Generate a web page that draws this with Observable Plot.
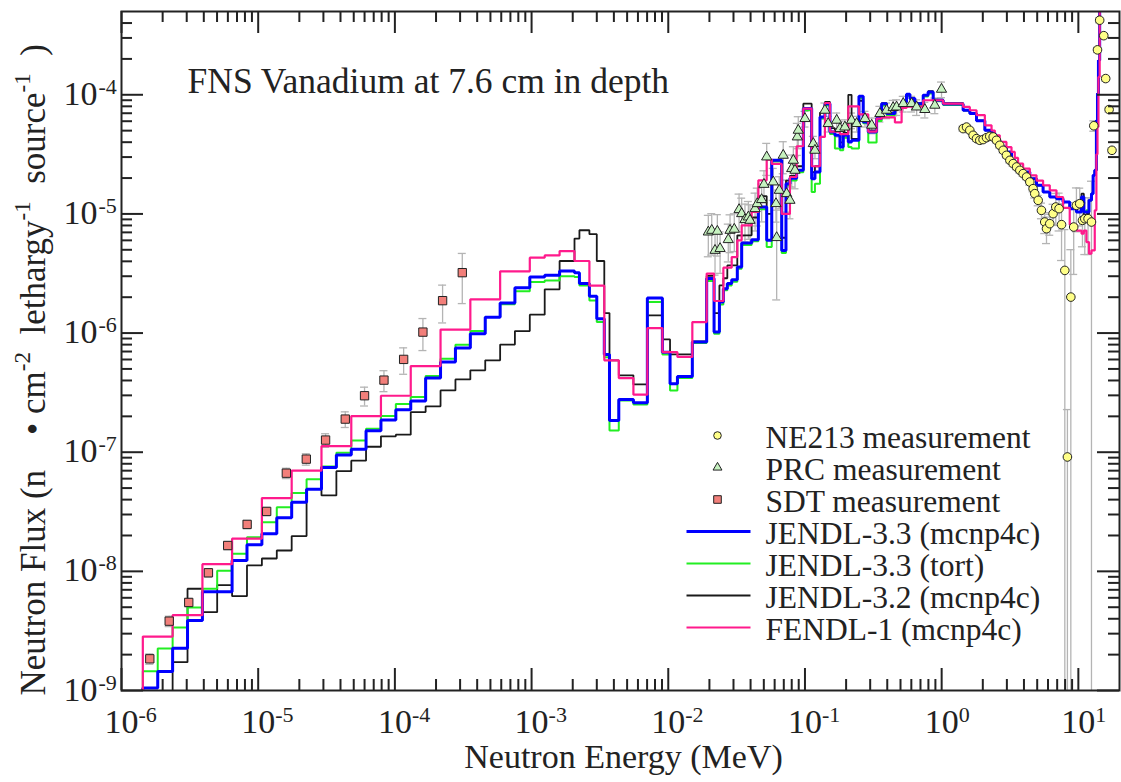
<!DOCTYPE html>
<html><head><meta charset="utf-8">
<script src="https://cdn.jsdelivr.net/npm/d3@7"></script>
<script src="https://cdn.jsdelivr.net/npm/@observablehq/plot@0.6"></script>
<style>body{margin:0;background:#fff}#chart{width:1121px;height:782px}</style>
</head><body><div id="chart"></div>
<script>
// ---- Data (log10 values) ----
// group boundaries, log10(E / MeV)
const edgeLogE = [-5.844,-5.735,-5.626,-5.517,-5.408,-5.300,-5.191,-5.082,-4.973,-4.864,
 -4.755,-4.646,-4.537,-4.428,-4.319,-4.211,-4.102,-3.993,-3.884,-3.775,
 -3.666,-3.557,-3.448,-3.339,-3.230,-3.122,-3.013,-2.904,-2.795,-2.686,
 -2.650,-2.577,-2.523,-2.468,-2.430,-2.362,-2.255,-2.153,-2.043,-1.987,
 -1.933,-1.824,-1.719,-1.665,-1.626,-1.597,-1.568,-1.536,-1.495,-1.463,
 -1.390,-1.341,-1.280,-1.243,-1.170,-1.139,-1.110,-1.061,-1.012,-0.951,
 -0.927,-0.890,-0.854,-0.817,-0.781,-0.744,-0.720,-0.683,-0.659,-0.605,
 -0.574,-0.537,-0.476,-0.439,-0.403,-0.342,-0.293,-0.257,-0.232,-0.196,
 -0.135,-0.099,-0.062,0.011,0.157,0.206,0.255,0.316,0.365,0.389,
 0.425,0.474,0.511,0.535,0.559,0.596,0.645,0.694,0.742,0.791,
 0.840,0.888,0.937,0.986,1.023,1.040,1.059,1.078,1.096,1.108,
 1.120,1.132,1.140,1.147,1.156,1.170];

// log10 flux per group
const jendl33McnpLog = [-8.98,-8.84,-8.645,-8.412,-8.171,-8.171,-7.908,-7.777,-7.684,-7.55,
 -7.419,-7.31,-7.128,-7.024,-6.976,-6.82,-6.73,-6.643,-6.571,-6.378,
 -6.243,-6.126,-6.005,-5.868,-5.748,-5.619,-5.530,-5.515,-5.479,-5.493,
 -5.585,-5.692,-5.879,-6.179,-6.733,-6.557,-6.584,-5.706,-6.16,-6.425,
 -6.364,-6.076,-5.543,-5.992,-5.74,-5.627,-5.585,-5.552,-5.446,-5.245,
 -5.216,-4.942,-5.222,-4.55,-5.306,-4.746,-4.70,-4.634,-4.116,-4.704,
 -4.648,-4.186,-4.075,-4.312,-4.34,-4.438,-4.34,-4.396,-4.382,-4.013,
 -4.228,-4.312,-4.2,-4.075,-4.158,-4.102,-4.06,-3.996,-4.032,-4.075,
 -4.004,-3.976,-4.046,-4.077,-4.13,-4.158,-4.218,-4.298,-4.32,-4.382,
 -4.438,-4.48,-4.55,-4.592,-4.62,-4.648,-4.704,-4.76,-4.816,-4.858,
 -4.872,-4.9,-4.956,-4.984,-4.858,-4.984,-4.984,-4.886,-4.83,-4.676,
 -4.634,-4.214,-3.99,-3.71,-3.0];
const jendl33TortLog = [-8.838,-8.647,-8.471,-8.303,-8.146,-7.995,-7.852,-7.713,-7.587,-7.461,
 -7.343,-7.226,-7.119,-7.004,-6.901,-6.803,-6.697,-6.596,-6.537,-6.361,
 -6.215,-6.098,-5.983,-5.866,-5.759,-5.65,-5.572,-5.558,-5.524,-5.53,
 -5.6,-5.726,-5.908,-6.202,-6.817,-6.565,-6.599,-5.74,-6.179,-6.481,
 -6.378,-6.084,-5.563,-6.005,-5.76,-5.64,-5.6,-5.57,-5.46,-5.26,
 -5.23,-4.96,-5.278,-4.56,-5.328,-4.76,-4.72,-4.65,-4.13,-4.816,
 -4.746,-4.2,-4.09,-4.33,-4.45,-4.466,-4.36,-4.438,-4.45,-4.03,
 -4.24,-4.4,-4.22,-4.09,-4.17,-4.11,-4.07,-4.01,-4.04,-4.085,
 -4.015,-3.99,-4.055,-4.085,-4.13,-4.158,-4.218,-4.298,-4.32,-4.382,
 -4.438,-4.48,-4.55,-4.592,-4.62,-4.648,-4.704,-4.76,-4.816,-4.858,
 -4.872,-4.9,-4.956,-4.984,-4.858,-4.984,-4.97,-4.886,-4.83,-4.676,
 -4.634,-4.214,-3.99,-3.71,-3.0];
const jendl32McnpLog = [-9.5,-9.5,-8.762,-8.146,-8.343,-8.116,-8.208,-7.95,-7.892,-7.825,
 -7.704,-7.31,-7.363,-7.159,-7.071,-6.954,-6.867,-6.853,-6.663,-6.615,
 -6.481,-6.389,-6.313,-6.229,-6.097,-5.983,-5.846,-5.633,-5.395,-5.207,
 -5.137,-5.17,-5.395,-5.832,-6.229,-6.355,-6.431,-5.851,-6.053,-6.179,
 -6.179,-6.07,-5.52,-5.832,-5.6,-5.54,-5.432,-5.432,-5.18,-5.18,
 -5.03,-4.85,-5.0,-4.55,-5.2,-4.72,-4.68,-4.6,-4.075,-4.65,
 -4.6,-4.15,-4.06,-4.28,-4.30,-4.40,-4.32,-4.0,-4.37,-4.05,
 -4.22,-4.30,-4.19,-4.07,-4.15,-4.10,-4.05,-4.0,-4.03,-4.07,
 -4.0,-3.97,-4.04,-4.07,-4.13,-4.158,-4.218,-4.298,-4.32,-4.382,
 -4.438,-4.48,-4.55,-4.592,-4.62,-4.648,-4.704,-4.76,-4.816,-4.858,
 -4.872,-4.9,-4.956,-4.984,-4.83,-5.054,-5.0,-4.886,-4.83,-4.676,
 -4.634,-4.214,-3.99,-3.71,-3.0];
const fendl1McnpLog = [-8.547,-8.547,-8.368,-8.368,-7.94,-7.94,-7.726,-7.726,-7.385,-7.385,
 -7.155,-7.155,-6.949,-6.949,-6.697,-6.697,-6.526,-6.526,-6.277,-6.277,
 -5.971,-5.971,-5.717,-5.717,-5.482,-5.482,-5.367,-5.348,-5.312,-5.395,
 -5.395,-5.602,-5.602,-6.229,-6.229,-6.378,-6.517,-5.958,-6.16,-6.16,
 -6.2,-5.908,-5.501,-5.731,-5.731,-5.451,-5.451,-5.362,-5.222,-5.096,
 -4.984,-4.718,-4.544,-4.58,-5.0,-5.0,-4.69,-4.432,-4.116,-4.6,
 -4.6,-4.354,-4.069,-4.31,-4.31,-4.33,-4.33,-4.097,-4.097,-4.164,
 -4.164,-4.31,-4.2,-4.19,-4.19,-4.232,-4.11,-4.10,-4.10,-4.10,
 -4.046,-4.046,-4.046,-4.075,-4.102,-4.13,-4.17,-4.256,-4.3,-4.34,
 -4.396,-4.44,-4.48,-4.53,-4.578,-4.62,-4.676,-4.72,-4.76,-4.802,
 -4.858,-4.95,-5.09,-5.14,-5.165,-5.14,-5.236,-5.334,-5.306,-5.306,
 -4.97,-4.5,-4.27,-3.85,-3.0];

// NE213 measurement
const ne213LogE = [0.157,0.182,0.206,0.23,0.255,0.279,0.303,0.328,0.352,0.377,0.401,0.425,0.45,0.474,0.499,0.523,0.548,0.572,0.596,0.621,0.645,
 0.669,0.681,0.706,0.73,0.754,0.767,0.791,0.815,0.835,0.859,0.877,0.901,0.945,0.92,0.966,0.986,1.01,1.03,1.047,1.071,1.096,
 1.113,1.14,1.156,1.186,1.2,1.225,1.246];
const ne213LogFlux = [-4.284,-4.271,-4.298,-4.34,-4.368,-4.382,-4.376,-4.36,-4.349,-4.354,-4.382,-4.424,-4.466,-4.508,-4.55,-4.578,-4.606,-4.634,-4.662,-4.69,-4.732,
 -4.788,-4.83,-4.886,-4.97,-5.068,-5.124,-5.082,-4.998,-4.942,-4.956,-5.09,-5.474,-5.698,-7.04,-5.11,-4.928,-4.914,-5.054,-5.04,-5.04,-5.068,
 -4.26,-3.623,-3.374,-3.504,-3.864,-4.124,-4.466];
const ne213RelErr = [0.05,0.05,0.05,0.05,0.05,0.05,0.05,0.05,0.05,0.05,0.05,0.05,0.05,0.05,0.05,0.05,0.05,0.05,0.05,0.05,0.06,
 0.06,0.08,0.1,0.15,0.2,0.25,0.2,0.2,0.3,0.35,0.5,1.2,1.5,1.5,0.6,0.4,0.35,0.4,0.5,0.5,1.2,
 0.1,0.05,0.05,0.05,0.05,0.05,0.05];

// PRC measurement
const prcLogE = [-1.707,-1.682,-1.641,-1.658,-1.621,-1.561,-1.548,-1.517,-1.482,-1.463,
 -1.439,-1.414,-1.402,-1.365,-1.349,-1.317,-1.3,-1.28,-1.232,-1.212,
 -1.207,-1.188,-1.159,-1.134,-1.11,-1.097,-1.085,-1.073,-1.056,-1.049,
 -1.0,-0.939,-0.927,-0.854,-0.83,-0.768,-0.744,-0.708,-0.659,-0.622,
 -0.561,-0.512,-0.452,-0.403,-0.355,-0.33,-0.281,-0.22,-0.183,-0.123,-0.05,-0.001];
const prcLogFlux = [-5.152,-5.138,-5.146,-5.306,-5.291,-5.216,-5.138,-5.129,-4.964,-4.998,
 -5.048,-5.026,-5.054,-4.956,-4.914,-4.88,-4.752,-4.522,-4.732,-4.914,
 -5.199,-4.802,-4.508,-4.83,-4.886,-4.62,-4.55,-4.634,-4.354,-4.298,
 -4.2,-4.41,-4.466,-4.13,-4.242,-4.214,-4.284,-4.271,-4.214,-4.242,
 -4.2,-4.256,-4.158,-4.13,-4.108,-4.103,-4.074,-4.074,-4.103,-4.124,-4.088,-3.954];
const prcRelErr = [0.38,0.38,0.38,0.38,0.38,0.35,0.35,0.35,0.35,0.35,0.35,0.35,0.35,0.35,0.35,0.35,
 0.3,0.3,0.3,0.3,0.7,0.3,0.3,0.3,0.3,0.3,0.3,0.3,0.3,0.3,
 0.15,0.15,0.15,0.15,0.15,0.15,0.15,0.15,0.15,0.15,0.15,0.15,0.15,0.15,0.15,0.15,0.15,0.15,0.15,0.15,0.15,0.15];

// SDT measurement
const sdtLogE = [-5.793,-5.651,-5.508,-5.364,-5.223,-5.081,-4.938,-4.794,-4.648,-4.507,-4.363,-4.222,-4.08,-3.936,-3.795,-3.651,-3.507];
const sdtLogFlux = [-8.734,-8.418,-8.261,-8.012,-7.783,-7.606,-7.497,-7.176,-7.058,-6.898,-6.722,-6.526,-6.395,-6.221,-5.992,-5.728,-5.493];
const sdtRelErr = [0.1,0.1,0.08,0.08,0.08,0.08,0.08,0.1,0.11,0.13,0.15,0.18,0.2,0.25,0.3,0.35,0.45];

// series and legend
const seriesNames = ["JENDL-3.3 (mcnp4c)", "JENDL-3.3 (tort)", "JENDL-3.2 (mcnp4c)", "FENDL-1 (mcnp4c)"];
const seriesColors = ["#0000ff", "#22ee22", "#1a1a1a", "#ff1a8c"];
const seriesWidths = [3, 2, 1.8, 2.2];
const measurementNames = ["NE213 measurement", "PRC measurement", "SDT measurement"];

// ticks
const xMajor = [1e-6, 1e-5, 1e-4, 1e-3, 1e-2, 1e-1, 1, 10];
const xTickExp = ["-6", "-5", "-4", "-3", "-2", "-1", "0", "1"];
const yMajor = [1e-9, 1e-8, 1e-7, 1e-6, 1e-5, 1e-4];
const yTickExp = ["-9", "-8", "-7", "-6", "-5", "-4"];

// ---- Layout ----
const W = 1121, H = 782, ML = 121, MR = 2, MT = 11, MB = 92;
const PW = W - ML - MR, PH = H - MT - MB;
const serif = "'Liberation Serif', 'Times New Roman', Times, serif";
const ink = "#222";

const xMinor = [], yMinor = [];
for (const d of xMajor) for (let m = 2; m <= 9; m++) if (d * m < 19.9) xMinor.push(d * m);
for (const d of yMajor) for (let m = 2; m <= 9; m++) if (d * m < 4.99e-4) yMinor.push(d * m);

function stepData(vals) {
  const pts = [{x: 10 ** edgeLogE[0], y: 1e-12}];
  vals.forEach((v, i) => pts.push({x: 10 ** edgeLogE[i], y: 10 ** v}));
  pts.push({x: 10 ** edgeLogE[vals.length], y: 10 ** vals[vals.length - 1]});
  return pts;
}
function measurement(le, lf, re) {
  return le.map((e, i) => {
    const v = 10 ** lf[i];
    return {x: 10 ** e, y: v, lo: Math.max(v * (1 - re[i]), 1e-12), hi: v * (1 + re[i])};
  });
}
const capK = 10 ** (4 / 136.7);
function errMarks(data) {
  const o = {stroke: "#b4b4b4", strokeWidth: 1.3, clip: true};
  return [
    Plot.ruleX(data, {x: "x", y1: "lo", y2: "hi", ...o}),
    Plot.ruleY(data, {y: "hi", x1: d => d.x / capK, x2: d => d.x * capK, ...o}),
    Plot.ruleY(data.filter(d => d.lo > 1e-10), {y: "lo", x1: d => d.x / capK, x2: d => d.x * capK, ...o})
  ];
}

const seriesVals = [jendl33McnpLog, jendl33TortLog, jendl32McnpLog, fendl1McnpLog];
const drawOrder = [2, 1, 0, 3];
const ne213 = measurement(ne213LogE, ne213LogFlux, ne213RelErr);
const prc = measurement(prcLogE, prcLogFlux, prcRelErr);
const sdt = measurement(sdtLogE, sdtLogFlux, sdtRelErr);

const circleStyle = {symbol: "circle", fill: "#ffff88", stroke: ink, strokeWidth: 1};
const triStyle = {symbol: "triangle", fill: "#c6f2c0", stroke: ink, strokeWidth: 1};
const sqStyle = {symbol: "square", fill: "#f27f7a", stroke: ink, strokeWidth: 1};

const legendLine = {draw(ctx) { ctx.moveTo(-32, 0); ctx.lineTo(32, 0); }};
const rowY = [435, 467, 499, 531, 563, 595, 627];
const legendLabels = [...measurementNames, ...seriesNames];
const legendMarks = [];
[[circleStyle, 3.8], [triStyle, 3.3], [sqStyle, 4.3]].forEach(([st, r], i) => {
  legendMarks.push(Plot.dot([0], {frameAnchor: "top-left", dx: 717 - ML, dy: rowY[i] - MT, r, ...st}));
});
seriesNames.forEach((n, i) => {
  legendMarks.push(Plot.dot([0], {frameAnchor: "top-left", dx: 718 - ML, dy: rowY[3 + i] - MT, r: 5,
    symbol: legendLine, fill: "none", stroke: seriesColors[i], strokeWidth: seriesWidths[i]}));
});
legendLabels.forEach((t, i) => {
  legendMarks.push(Plot.text([t], {text: d => d, frameAnchor: "top-left", dx: 765 - ML, dy: rowY[i] - MT + 2,
    textAnchor: "start", lineAnchor: "middle", fontSize: 31.5, fill: ink}));
});

const yTitle = "Neutron Flux (n\u2003\u2022 cm^{-2}\u2002lethargy^{-1}\u2002source^{-1}\u2002)";

const tk = {stroke: ink, strokeWidth: 2};
const chart = Plot.plot({
  width: W, height: H,
  marginLeft: ML, marginRight: MR, marginTop: MT, marginBottom: MB,
  x: {type: "log", domain: [1e-6, 20], axis: null},
  y: {type: "log", domain: [1e-9, 5e-4], axis: null},
  style: {fontFamily: serif, background: "#fff", color: ink},
  marks: [
    ...errMarks(ne213), ...errMarks(prc), ...errMarks(sdt),
    ...drawOrder.map(i => Plot.line(stepData(seriesVals[i]), {x: "x", y: "y", curve: "step-after",
      stroke: seriesColors[i], strokeWidth: seriesWidths[i], strokeLinejoin: "miter", clip: true})),
    Plot.dot(ne213, {x: "x", y: "y", r: 4.3, ...circleStyle, clip: true}),
    Plot.dot(prc, {x: "x", y: "y", r: 3.8, ...triStyle, clip: true}),
    Plot.dot(sdt, {x: "x", y: "y", r: 4.7, ...sqStyle, clip: true}),
    // axes ticks (inward, on all four sides)
    Plot.tickX(xMajor, {x: d => d, insetTop: PH - 22, ...tk}),
    Plot.tickX(xMinor, {x: d => d, insetTop: PH - 11, ...tk}),
    Plot.tickX(xMajor, {x: d => d, insetBottom: PH - 22, ...tk}),
    Plot.tickX(xMinor, {x: d => d, insetBottom: PH - 11, ...tk}),
    Plot.tickY(yMajor, {y: d => d, insetRight: PW - 22, ...tk}),
    Plot.tickY(yMinor, {y: d => d, insetRight: PW - 11, ...tk}),
    Plot.tickY(yMajor, {y: d => d, insetLeft: PW - 22, ...tk}),
    Plot.tickY(yMinor, {y: d => d, insetLeft: PW - 11, ...tk}),
    Plot.frame({stroke: ink, strokeWidth: 2}),
    // tick labels
    Plot.text(xMajor, {x: d => d, frameAnchor: "bottom", dy: 42, text: () => "10", textAnchor: "middle", lineAnchor: "bottom", fontSize: 34, fill: ink}),
    Plot.text(xMajor, {x: d => d, frameAnchor: "bottom", dx: 17, dy: 31, text: (d, i) => xTickExp[i], textAnchor: "start", lineAnchor: "bottom", fontSize: 22, fill: ink}),
    Plot.text(yMajor, {y: d => d, frameAnchor: "left", dx: -24, dy: 10, text: () => "10", textAnchor: "end", lineAnchor: "bottom", fontSize: 34, fill: ink}),
    Plot.text(yMajor, {y: d => d, frameAnchor: "left", dx: -23, dy: -1, text: (d, i) => yTickExp[i], textAnchor: "start", lineAnchor: "bottom", fontSize: 22, fill: ink}),
    // axis titles and in-plot title
    Plot.text(["Neutron Energy (MeV)"], {text: d => d, frameAnchor: "bottom", dx: 3, dy: 77, lineAnchor: "bottom", fontSize: 34, fill: ink}),
    Plot.text([yTitle], {text: d => d, frameAnchor: "left", dx: -77, dy: 695 - (MT + PH / 2), rotate: -90, textAnchor: "start", lineAnchor: "bottom", fontSize: 35, fill: ink}),
    Plot.text(["FNS Vanadium at 7.6 cm in depth"], {text: d => d, frameAnchor: "top-left", dx: 66, dy: 81, textAnchor: "start", lineAnchor: "bottom", fontSize: 35.5, fill: ink}),
    ...legendMarks
  ]
});

// turn ^{...} markup into real superscript tspans
(function superscripts(svg) {
  const ns = "http://www.w3.org/2000/svg";
  svg.querySelectorAll("text").forEach(t => {
    const s = t.textContent;
    if (!s.includes("^{")) return;
    t.textContent = "";
    let raised = false;
    for (const p of s.split(/(\^\{[^}]*\})/)) {
      if (!p) continue;
      const sp = document.createElementNS(ns, "tspan");
      if (p.startsWith("^{")) {
        sp.textContent = p.slice(2, -1);
        sp.setAttribute("font-size", "23");
        sp.setAttribute("dy", "-15");
        raised = true;
      } else {
        sp.textContent = p;
        if (raised) { sp.setAttribute("dy", "15"); raised = false; }
      }
      t.appendChild(sp);
    }
  });
})(chart);

document.getElementById("chart").appendChild(chart);
</script>
</body></html>
